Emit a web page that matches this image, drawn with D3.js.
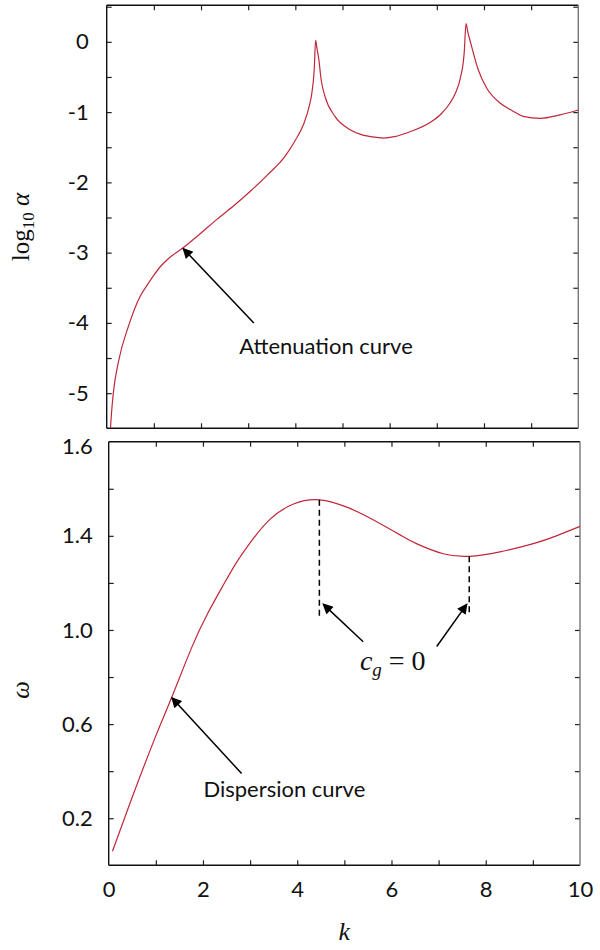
<!DOCTYPE html>
<html>
<head>
<meta charset="utf-8">
<script src="https://cdn.jsdelivr.net/npm/d3@7"></script>
<style>
  body { margin: 0; background: #fff; }
  .tick text { font-family: Lato, "Open Sans", sans-serif; font-size: 22px; fill: #111; }
  .tick line { stroke: #222; stroke-width: 1.2; }
  .note { font-family: Lato, "Open Sans", sans-serif; font-size: 22px; fill: #111; }
  .math { font-family: "Liberation Serif", "DejaVu Serif", serif; fill: #111; }
</style>
</head>
<body>
<svg id="chart" width="600" height="950"></svg>
<script>
// attenuation curve (top panel)
const kAtt = [0.08, 0.1, 0.14, 0.25, 0.46, 0.71, 0.85, 0.99, 1.15, 1.3, 1.62, 2.0, 2.33, 2.7, 3.04, 3.4, 3.78, 4.0, 4.17, 4.3, 4.35, 4.4, 4.43,
    4.46, 4.49, 4.55, 4.63, 4.84, 5.16, 5.4, 5.73, 5.87, 6.1, 6.43, 6.89, 7.1, 7.28, 7.4, 7.49, 7.58, 7.62,
    7.66, 7.7, 7.88, 8.06, 8.34, 8.6, 8.83, 9.19, 9.61, 10];
const logAlpha = [-5.5, -5.3, -5.0, -4.55, -4.05, -3.62, -3.47, -3.33, -3.19, -3.09, -2.93, -2.72, -2.53, -2.33, -2.13, -1.9, -1.63, -1.4, -1.18, -0.9, -0.73, -0.4, 0.02,
    -0.1, -0.21, -0.55, -0.78, -1.06, -1.25, -1.32, -1.36, -1.37, -1.35, -1.28, -1.135, -1.02, -0.87, -0.72, -0.54, -0.16, 0.26,
    0.13, 0.03, -0.4, -0.66, -0.87, -0.98, -1.06, -1.09, -1.04, -0.97];

// dispersion curve (bottom panel)
const kDisp = [0.08, 0.5, 1.0, 1.34, 1.76, 2.1, 2.43, 2.7, 3.0, 3.42, 3.92, 4.47, 5.05, 5.45, 5.83, 6.2, 6.53, 7.1, 7.65, 8.3, 9.01, 9.5, 10];
const omega = [0.06, 0.29, 0.55, 0.715, 0.925, 1.07, 1.19, 1.283, 1.37, 1.47, 1.535, 1.553, 1.522, 1.485, 1.444, 1.402, 1.367, 1.324, 1.313, 1.332, 1.367, 1.4, 1.44];

// group velocity zero points: k, top (on curve), bottom of dashed line
const cgK = [4.47, 7.65];
const cgTop = [1.553, 1.313];
const cgBottom = [1.043, 1.071];

const kTicks = [0, 2, 4, 6, 8, 10];
const attLabels = [0, -1, -2, -3, -4, -5];
const dispTickValues = [0.2, 0.6, 1.0, 1.4, 1.8];
const dispTickLabels = ["0.2", "0.6", "1.0", "1.4", "1.6"];

const svg = d3.select("#chart");
const curveColor = "#c0283a";

svg.append("defs").append("marker")
    .attr("id", "head")
    .attr("viewBox", "0 0 10 10")
    .attr("refX", 9).attr("refY", 5)
    .attr("markerWidth", 8).attr("markerHeight", 7)
    .attr("markerUnits", "strokeWidth")
    .attr("orient", "auto-start-reverse")
    .append("path").attr("d", "M0,0 L10,5 L0,10 z").attr("fill", "#000");

function panel(x, y, yMinor) {
    const g = svg.append("g");
    const [x0, x1] = x.range();
    const [y0, y1] = y.range();
    const minorK = d3.range(1, 10);

    g.append("g").attr("transform", `translate(0,${y0})`)
        .call(d3.axisTop(x).tickValues(minorK).tickSizeInner(5).tickSizeOuter(0).tickFormat(""))
        .call(a => a.select(".domain").remove());
    g.append("g").attr("transform", `translate(0,${y1})`)
        .call(d3.axisBottom(x).tickValues(minorK).tickSizeInner(5).tickSizeOuter(0).tickFormat(""))
        .call(a => a.select(".domain").remove());
    g.append("g").attr("transform", `translate(${x0},0)`)
        .call(d3.axisRight(y).tickValues(yMinor).tickSizeInner(5).tickSizeOuter(0).tickFormat(""))
        .call(a => a.select(".domain").remove());
    g.append("g").attr("transform", `translate(${x1},0)`)
        .call(d3.axisLeft(y).tickValues(yMinor).tickSizeInner(5).tickSizeOuter(0).tickFormat(""))
        .call(a => a.select(".domain").remove());

    // frame, right side a bit lighter like the scan
    const frame = [[x0, y1, x1, y1, "#111"], [x0, y0, x1, y0, "#111"], [x0, y0, x0, y1, "#111"], [x1, y0, x1, y1, "#777"]];
    g.selectAll("line.frame").data(frame).enter().append("line")
        .attr("class", "frame")
        .attr("x1", d => d[0]).attr("y1", d => d[1])
        .attr("x2", d => d[2]).attr("y2", d => d[3])
        .attr("stroke", d => d[4]).attr("stroke-width", 1.4);
    return g;
}

// TOP PANEL
const xTop = d3.scaleLinear().domain([0, 10]).range([106.7, 578.3]);
const yTop = d3.scaleLinear().domain([-5.5, 0.52]).range([428.3, 5.3]);
const topPanel = panel(xTop, yTop, d3.range(-5, 0.51, 0.5));

topPanel.append("g").attr("transform", `translate(${xTop.range()[0]},0)`)
    .call(d3.axisLeft(yTop).tickValues(attLabels).tickSize(0).tickPadding(18).tickFormat(d => String(d)))
    .call(a => a.select(".domain").remove());

topPanel.append("path")
    .datum(d3.zip(kAtt, logAlpha))
    .attr("fill", "none")
    .attr("stroke", curveColor)
    .attr("stroke-width", 1.2)
    .attr("d", d3.line().x(d => xTop(d[0])).y(d => yTop(d[1])).curve(d3.curveMonotoneX));

// BOTTOM PANEL
const xBot = d3.scaleLinear().domain([0, 10]).range([108.7, 580]);
const yBot = d3.scaleLinear().domain([0, 1.8]).range([865.3, 441.7]);
const botPanel = panel(xBot, yBot, d3.range(1, 9).map(i => i * 0.2));

botPanel.append("g").attr("transform", `translate(${xBot.range()[0]},0)`)
    .call(d3.axisLeft(yBot).tickValues(dispTickValues).tickSize(0).tickPadding(16)
        .tickFormat((d, i) => dispTickLabels[i]))
    .call(a => a.select(".domain").remove())
    .call(a => a.selectAll(".tick text").filter(d => d > 1.7).attr("dy", "0.55em"));

botPanel.append("g").attr("transform", `translate(0,${yBot.range()[0]})`)
    .call(d3.axisBottom(xBot).tickValues(kTicks).tickSize(0).tickPadding(16).tickFormat(d => String(d)))
    .call(a => a.select(".domain").remove());

botPanel.append("path")
    .datum(d3.zip(kDisp, omega))
    .attr("fill", "none")
    .attr("stroke", curveColor)
    .attr("stroke-width", 1.2)
    .attr("d", d3.line().x(d => xBot(d[0])).y(d => yBot(d[1])).curve(d3.curveNatural));

botPanel.selectAll("line.cg").data(d3.range(cgK.length)).enter().append("line")
    .attr("class", "cg")
    .attr("x1", i => xBot(cgK[i])).attr("x2", i => xBot(cgK[i]))
    .attr("y1", i => yBot(cgTop[i])).attr("y2", i => yBot(cgBottom[i]))
    .attr("stroke", "#000").attr("stroke-width", 1.5)
    .attr("stroke-dasharray", "6,4");

// ANNOTATIONS (tail -> tip, in data units)
function arrow(g, x, y, from, to) {
    g.append("line")
        .attr("x1", x(from[0])).attr("y1", y(from[1]))
        .attr("x2", x(to[0])).attr("y2", y(to[1]))
        .attr("stroke", "#000").attr("stroke-width", 1.5)
        .attr("marker-end", "url(#head)");
}
arrow(topPanel, xTop, yTop, [3.12, -4.0], [1.62, -2.94]);
topPanel.append("text").attr("class", "note")
    .attr("x", xTop(2.81)).attr("y", yTop(-4.44))
    .text("Attenuation curve");

arrow(botPanel, xBot, yBot, [2.82, 0.39], [1.34, 0.712]);
botPanel.append("text").attr("class", "note")
    .attr("x", xBot(2.01)).attr("y", yBot(0.29))
    .text("Dispersion curve");

arrow(botPanel, xBot, yBot, [5.4, 0.95], [4.55, 1.11]);
arrow(botPanel, xBot, yBot, [6.96, 0.93], [7.6, 1.11]);
const cg = botPanel.append("text").attr("class", "math")
    .attr("x", xBot(5.33)).attr("y", yBot(0.83))
    .attr("font-size", 28);
cg.append("tspan").attr("font-style", "italic").text("c");
cg.append("tspan").attr("font-style", "italic").attr("font-size", 19).attr("dy", 6).text("g");
cg.append("tspan").attr("dy", -6).text(" = 0");

// AXIS TITLES
const ylab = svg.append("text").attr("class", "math")
    .attr("transform", "translate(29,227) rotate(-90)")
    .attr("text-anchor", "middle")
    .attr("font-size", 25);
ylab.append("tspan").text("log");
ylab.append("tspan").attr("font-size", 17).attr("dy", 5).text("10");
ylab.append("tspan").attr("dy", -5).attr("font-style", "italic").text(" α");

svg.append("text").attr("class", "math")
    .attr("transform", "translate(29,690) rotate(-90)")
    .attr("text-anchor", "middle")
    .attr("font-size", 25).attr("font-style", "italic")
    .text("ω");

svg.append("text").attr("class", "math")
    .attr("x", xBot(5)).attr("y", 940)
    .attr("text-anchor", "middle")
    .attr("font-size", 26).attr("font-style", "italic")
    .text("k");
</script>
</body>
</html>
